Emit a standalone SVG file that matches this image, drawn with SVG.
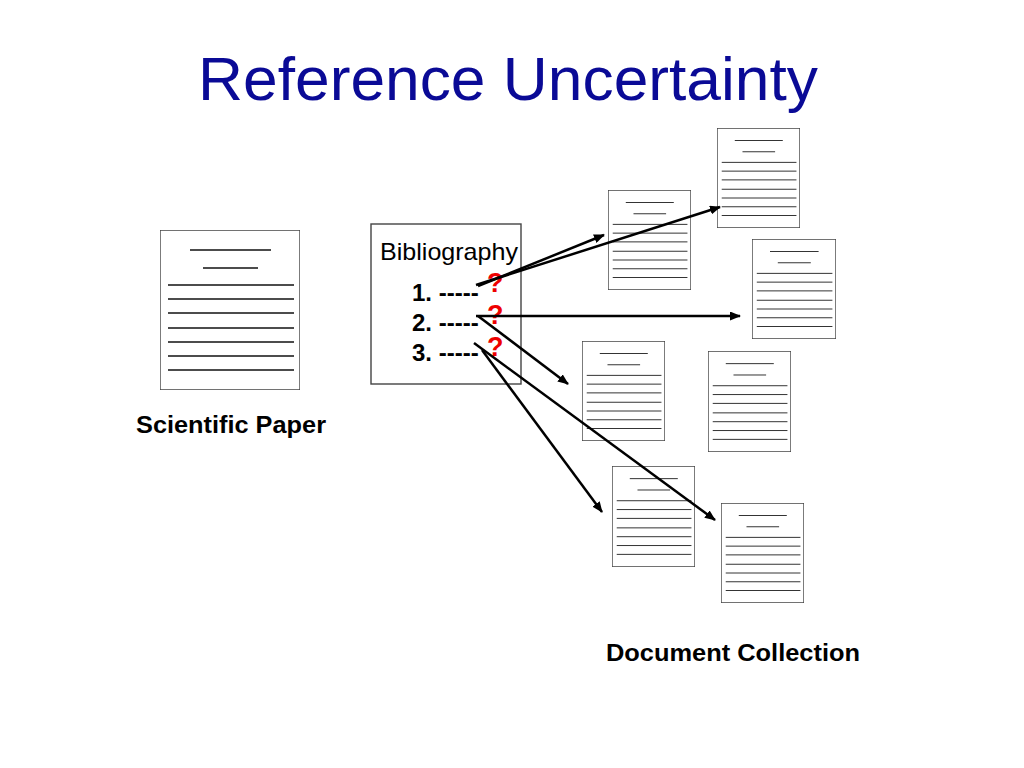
<svg xmlns="http://www.w3.org/2000/svg" xmlns:xlink="http://www.w3.org/1999/xlink" width="1024" height="768" viewBox="0 0 1024 768">
<style>
.ln{stroke:#111;stroke-width:1.4;vector-effect:non-scaling-stroke}
.c{stroke:#000;stroke-width:2.5;fill:none;marker-end:url(#ah)}
.b{font-family:"Liberation Sans",Arial,sans-serif;font-weight:bold;font-size:24px}
.q{font-family:"Liberation Sans",Arial,sans-serif;font-weight:bold;font-size:27px;fill:#e00}
</style>
<defs>
<marker id="ah" markerWidth="11" markerHeight="9" refX="10" refY="4.5" orient="auto" markerUnits="userSpaceOnUse"><path d="M0,0 L11,4.5 L0,9 z"/></marker>
<symbol id="doc" viewBox="0 0 140 160" preserveAspectRatio="none">
<rect x="0" y="0" width="140" height="160" fill="#fff" stroke="#444" stroke-width="1.4" vector-effect="non-scaling-stroke"/>
<g class="ln"><line x1="30" y1="20" x2="111" y2="20"/><line x1="43" y1="38" x2="98" y2="38"/>
<line x1="8" y1="55" x2="134" y2="55"/><line x1="8" y1="69" x2="134" y2="69"/><line x1="8" y1="83" x2="134" y2="83"/><line x1="8" y1="98" x2="134" y2="98"/><line x1="8" y1="112" x2="134" y2="112"/><line x1="8" y1="126" x2="134" y2="126"/><line x1="8" y1="140" x2="134" y2="140"/></g>
</symbol>
</defs>
<rect width="1024" height="768" fill="#fff"/>
<text x="508" y="100" text-anchor="middle" font-family="Liberation Sans,Arial,sans-serif" font-size="62" fill="#0a0a96" textLength="620" lengthAdjust="spacingAndGlyphs">Reference Uncertainty</text>
<g id="paper"><use xlink:href="#doc" x="160" y="230" width="140" height="160"/>
<text class="b" x="136" y="433" textLength="190" lengthAdjust="spacingAndGlyphs">Scientific Paper</text></g>
<g id="bib"><rect x="371" y="224" width="150" height="160" fill="#fff" stroke="#444" stroke-width="1.4"/>
<text x="380" y="260" font-family="Liberation Sans,Arial,sans-serif" font-size="24" textLength="138" lengthAdjust="spacingAndGlyphs">Bibliography</text>
<text class="b" x="412" y="301">1. -----</text><text class="b" x="412" y="331">2. -----</text><text class="b" x="412" y="361">3. -----</text>
<text class="q" x="487" y="292">?</text><text class="q" x="487" y="324">?</text><text class="q" x="487" y="356">?</text></g>
<g id="docs">
<use xlink:href="#doc" x="608" y="190" width="83" height="100"/>
<use xlink:href="#doc" x="717" y="128" width="83" height="100"/>
<use xlink:href="#doc" x="752" y="239" width="84" height="100"/>
<use xlink:href="#doc" x="582" y="341" width="83" height="100"/>
<use xlink:href="#doc" x="708" y="351" width="83" height="101"/>
<use xlink:href="#doc" x="612" y="466" width="83" height="101"/>
<use xlink:href="#doc" x="721" y="503" width="83" height="100"/>
<text class="b" x="606" y="661" textLength="254" lengthAdjust="spacingAndGlyphs">Document Collection</text>
</g>
<g id="connectors">
<line class="c" x1="478" y1="286" x2="604" y2="235"/>
<line class="c" x1="476" y1="285" x2="720" y2="207"/>
<line class="c" x1="476" y1="316" x2="740" y2="316"/>
<line class="c" x1="478" y1="316" x2="568" y2="384"/>
<line class="c" x1="474" y1="343" x2="715" y2="520"/>
<line class="c" x1="482" y1="350" x2="602" y2="512"/>
</g>
</svg>
